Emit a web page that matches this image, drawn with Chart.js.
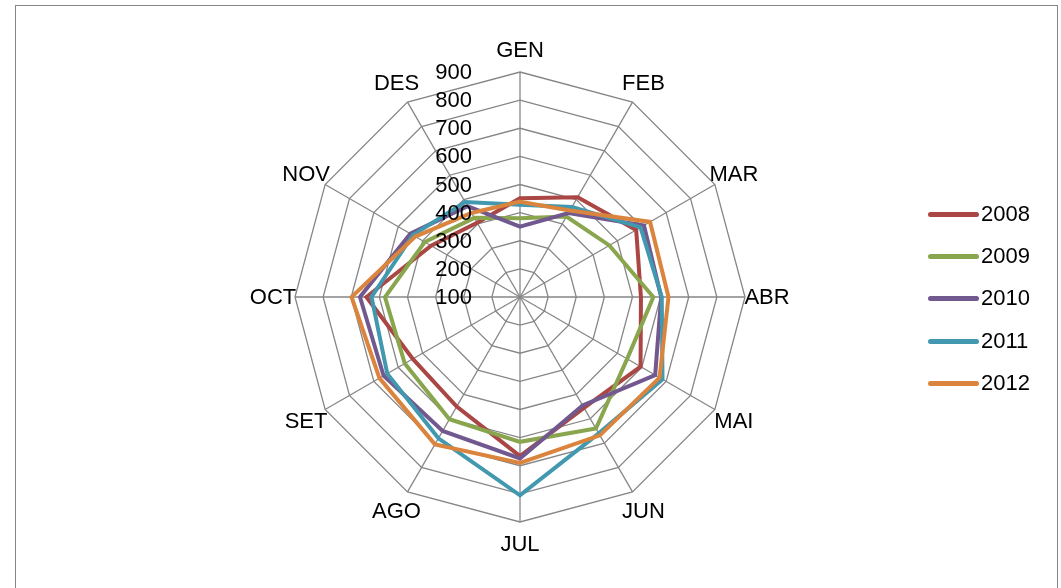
<!DOCTYPE html>
<html>
<head>
<meta charset="utf-8">
<script src="https://cdn.jsdelivr.net/npm/chart.js@4/dist/chart.umd.min.js"></script>
<style>
  body { margin: 0; background: #fff; font-family: "Liberation Sans", Arial, sans-serif; }
  #wrap { position: relative; width: 1061px; height: 588px; overflow: hidden; }
  #frame { position: absolute; left: 15px; top: 5px; width: 1041px; height: 600px; border: 1.5px solid #868686; }
  #chart { position: absolute; left: 0; top: 0; }
  .leg { position: absolute; left: 928px; height: 24px; font-size: 22px; color: #000; }
  .leg span.ln { position: absolute; left: 0; top: 9px; width: 51px; height: 5px; border-radius: 3px; }
  .leg span.tx { position: absolute; left: 53px; top: -1px; line-height: 24px; }
</style>
</head>
<body>
<div id="wrap">
  <div id="frame"></div>
  <canvas id="chart" width="1061" height="588"></canvas>
  <div id="legend"></div>
</div>
<script>
// months (Catalan), series per year
const months = ['GEN', 'FEB', 'MAR', 'ABR', 'MAI', 'JUN', 'JUL', 'AGO', 'SET', 'OCT', 'NOV', 'DES'];
const years = ['2008', '2009', '2010', '2011', '2012'];
const v2008 = [451, 510, 577, 530, 595, 555, 666, 550, 540, 646, 465, 405];
const v2009 = [380, 430, 467, 574, 540, 640, 615, 602, 573, 580, 491, 425];
const v2010 = [350, 445, 609, 602, 655, 545, 674, 650, 660, 669, 550, 473];
const v2011 = [428, 470, 595, 604, 685, 660, 805, 680, 645, 628, 540, 490];
const v2012 = [439, 455, 634, 628, 673, 668, 690, 705, 677, 699, 530, 445];
const tickValues = [100, 200, 300, 400, 500, 600, 700, 800, 900];
const colors = ['#AA4643', '#89A54E', '#71588F', '#4198AF', '#DB843D'];

const series = [v2008, v2009, v2010, v2011, v2012];

// labels drawn like the excel chart: ticks left of the axis, month names centred
const excelLabels = {
    id: 'excelLabels',
    afterDraw(chart) {
        const r = chart.scales.r;
        const ctx = chart.ctx;
        ctx.save();
        ctx.font = '22px "Liberation Sans", Arial, sans-serif';
        ctx.fillStyle = '#000';
        ctx.textBaseline = 'middle';
        ctx.textAlign = 'right';
        tickValues.forEach(function(v) {
            const y = r.yCenter - r.getDistanceFromCenterForValue(v);
            ctx.fillText(String(v), r.xCenter - 48, y + 1);
        });
        ctx.textAlign = 'center';
        months.forEach(function(m, i) {
            const p = r.getPointPosition(i, r.drawingArea + 22);
            ctx.fillText(m, p.x, p.y + 1);
        });
        ctx.restore();
    }
};

const ctx = document.getElementById('chart');
new Chart(ctx, {
    type: 'radar',
    data: {
        labels: months,
        datasets: series.map(function(vals, i) {
            return {
                label: years[i],
                data: vals,
                borderColor: colors[i],
                backgroundColor: colors[i],
                borderWidth: 4,
                borderJoinStyle: 'miter',
                pointRadius: 0,
                fill: false,
                tension: 0,
                order: series.length - i
            };
        })
    },
    options: {
        responsive: false,
        animation: false,
        devicePixelRatio: 1,
        layout: { padding: { left: 295, right: 316, top: 72, bottom: 66 } },
        plugins: {
            legend: { display: false },
            tooltip: { enabled: false }
        },
        scales: {
            r: {
                min: 100,
                max: 900,
                ticks: { stepSize: 100, display: false },
                grid: { color: '#868686', lineWidth: 1.3 },
                angleLines: { color: '#868686', lineWidth: 1.3 },
                pointLabels: { display: false }
            }
        }
    },
    plugins: [excelLabels]
});

// legend
const legend = document.getElementById('legend');
const legendTop = [203, 245, 287, 330, 372];
years.forEach(function(y, i) {
    const d = document.createElement('div');
    d.className = 'leg';
    d.style.top = legendTop[i] + 'px';
    d.innerHTML = '<span class="ln" style="background:' + colors[i] + '"></span><span class="tx">' + y + '</span>';
    legend.appendChild(d);
});
</script>
</body>
</html>
